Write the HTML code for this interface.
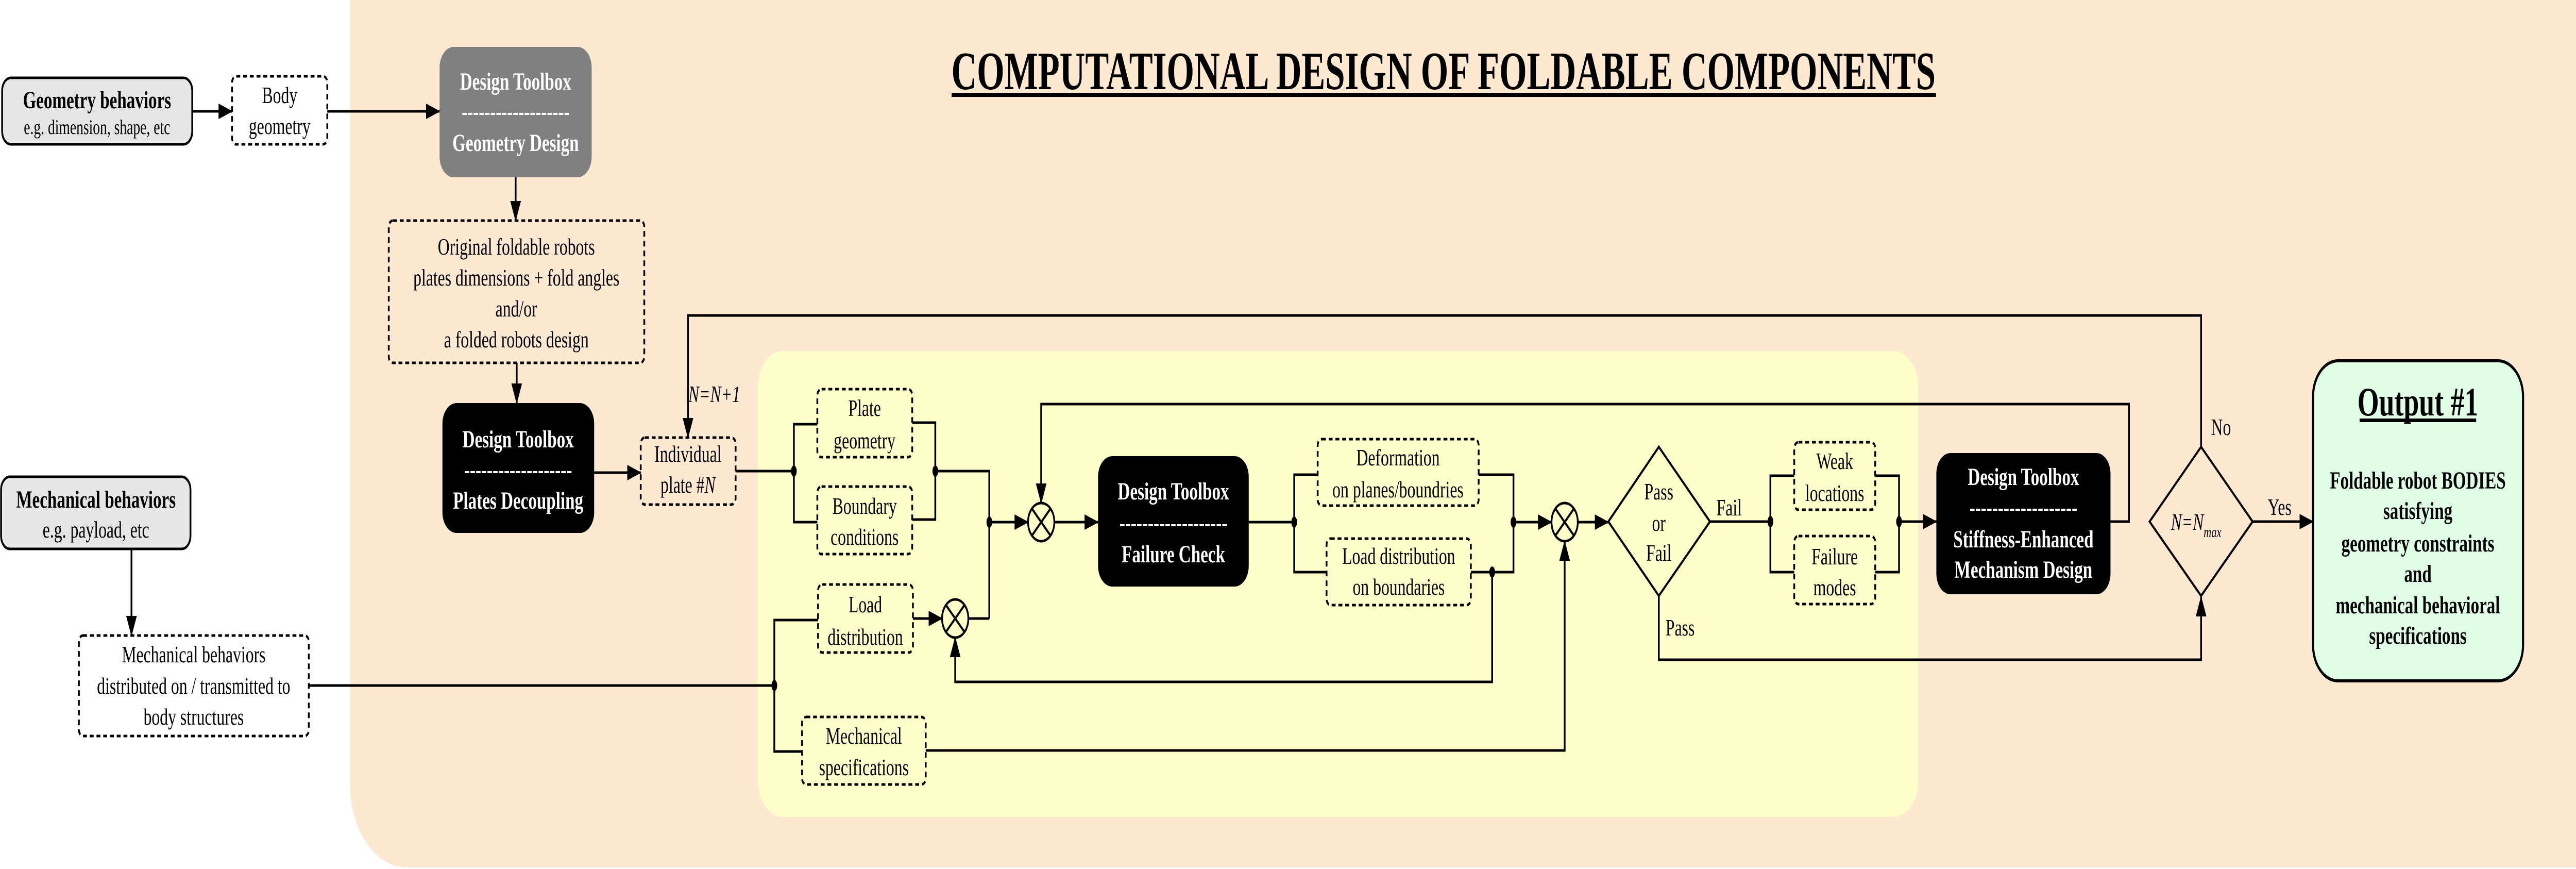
<!DOCTYPE html>
<html><head><meta charset="utf-8"><style>html,body{margin:0;padding:0;background:#fff;overflow:hidden;width:100vw;height:100vh}svg{display:block;width:100vw;height:100vh}</style></head>
<body>
<svg viewBox="0 0 7249 1686" preserveAspectRatio="none" xmlns="http://www.w3.org/2000/svg" font-family="'Liberation Serif', serif">
<defs>
<marker id="a" markerUnits="userSpaceOnUse" markerWidth="40" markerHeight="30" refX="38" refY="15" orient="auto"><path d="M0,0 L40,15 L0,30 Z" fill="#000"/></marker>
</defs>
<rect x="985" y="-200" width="6500" height="1883" rx="160" fill="#fde8d2"/>
<rect x="2133" y="681" width="3265" height="904" rx="70" fill="#ffffcc"/>

<text x="4062" y="173" font-size="105" font-weight="bold" text-anchor="middle" textLength="2770" lengthAdjust="spacingAndGlyphs">COMPUTATIONAL DESIGN OF FOLDABLE COMPONENTS</text>
<rect x="2678" y="180" width="2770" height="8" fill="#000"/>

<g stroke="#000" stroke-width="5" fill="none">
<line x1="541" y1="216" x2="653" y2="216" marker-end="url(#a)"/>
<line x1="921" y1="216" x2="1237" y2="216" marker-end="url(#a)"/>
<line x1="1451" y1="344" x2="1451" y2="428" marker-end="url(#a)"/>
<line x1="1454" y1="704" x2="1454" y2="782" marker-end="url(#a)"/>
<line x1="1672" y1="917" x2="1803" y2="917" marker-end="url(#a)"/>
<line x1="370" y1="1065" x2="370" y2="1233" marker-end="url(#a)"/>
<polyline points="6194,867 6194,612 1936,612 1936,849" marker-end="url(#a)"/>
<polyline points="2070,914 2234,914"/>
<polyline points="2300,823 2234,823 2234,1013 2300,1013"/>
<polyline points="2567,820 2632,820 2632,1008 2567,1008"/>
<polyline points="2632,914 2784,914 2784,1200"/>
<line x1="2784" y1="1013" x2="2893" y2="1013" marker-end="url(#a)"/>
<polyline points="5939,1012 5991,1012 5991,784 2930,784 2930,976" marker-end="url(#a)"/>
<line x1="2967" y1="1013" x2="3090" y2="1013" marker-end="url(#a)"/>
<polyline points="3514,1013 3642,1013"/>
<polyline points="3708,921 3642,921 3642,1110 3733,1110"/>
<polyline points="4161,921 4259,921 4259,1110 4139,1110"/>
<line x1="4259" y1="1013" x2="4366" y2="1013" marker-end="url(#a)"/>
<polyline points="4199,1110 4199,1323 2688,1323 2688,1237" marker-end="url(#a)"/>
<polyline points="869,1330 2179,1330"/>
<polyline points="2302,1203 2179,1203 2179,1458 2257,1458"/>
<line x1="2569" y1="1200" x2="2651" y2="1200" marker-end="url(#a)"/>
<polyline points="2725,1200 2784,1200"/>
<polyline points="2605,1456 4403,1456 4403,1050" marker-end="url(#a)"/>
<line x1="4440" y1="1013" x2="4526" y2="1013" marker-end="url(#a)"/>
<polyline points="4812,1012 4982,1012"/>
<polyline points="5049,923 4982,923 4982,1110 5049,1110"/>
<polyline points="5277,923 5344,923 5344,1110 5277,1110"/>
<line x1="5344" y1="1012" x2="5449" y2="1012" marker-end="url(#a)"/>
<polyline points="4668,1156 4668,1280 6194,1280 6194,1158" marker-end="url(#a)"/>
<line x1="6339" y1="1012" x2="6509" y2="1012" marker-end="url(#a)"/>
</g>
<g fill="#000">
<ellipse cx="2234" cy="914" rx="8" ry="11"/><ellipse cx="2632" cy="914" rx="8" ry="11"/>
<ellipse cx="2784" cy="1013" rx="8" ry="11"/><ellipse cx="3642" cy="1013" rx="8" ry="11"/>
<ellipse cx="4259" cy="1013" rx="8" ry="11"/><ellipse cx="4199" cy="1110" rx="8" ry="11"/>
<ellipse cx="2179" cy="1330" rx="8" ry="11"/><ellipse cx="4982" cy="1012" rx="8" ry="11"/>
<ellipse cx="5344" cy="1012" rx="8" ry="11"/>
</g>
<g stroke="#000" stroke-width="5" fill="none">
<circle cx="2930" cy="1013" r="37"/><path d="M2904,987 L2956,1039 M2956,987 L2904,1039"/>
<circle cx="2688" cy="1200" r="37"/><path d="M2662,1174 L2714,1226 M2714,1174 L2662,1226"/>
<circle cx="4403" cy="1013" r="37"/><path d="M4377,987 L4429,1039 M4429,987 L4377,1039"/>
<polygon points="4668,867 4812,1012 4668,1156 4526,1012"/>
<polygon points="6194,867 6339,1012 6194,1156 6049,1012"/>
</g>

<rect x="6" y="151" width="535" height="129" rx="25" fill="#e6e6e6" stroke="#000" stroke-width="5"/>
<rect x="3" y="925" width="533" height="140" rx="25" fill="#e6e6e6" stroke="#000" stroke-width="5"/>
<rect x="1237" y="91" width="428" height="253" rx="40" fill="#808080"/>
<rect x="1245" y="782" width="427" height="252" rx="40" fill="#000"/>
<rect x="3090" y="885" width="424" height="253" rx="40" fill="#000"/>
<rect x="5449" y="879" width="490" height="274" rx="40" fill="#000"/>
<rect x="6509" y="700" width="591" height="621" rx="70" fill="#e0fde6" stroke="#000" stroke-width="6"/>

<g fill="none" stroke="#000" stroke-width="5" stroke-dasharray="11,8">
<rect x="653" y="148" width="268" height="132" rx="12"/>
<rect x="1094" y="428" width="719" height="276" rx="12"/>
<rect x="1803" y="849" width="267" height="130" rx="12"/>
<rect x="222" y="1233" width="647" height="195" rx="12"/>
<rect x="2300" y="755" width="267" height="132" rx="12"/>
<rect x="2300" y="944" width="267" height="131" rx="12"/>
<rect x="2302" y="1134" width="267" height="132" rx="12"/>
<rect x="2257" y="1391" width="348" height="131" rx="12"/>
<rect x="3708" y="852" width="453" height="129" rx="12"/>
<rect x="3733" y="1045" width="406" height="129" rx="12"/>
<rect x="5049" y="858" width="228" height="131" rx="12"/>
<rect x="5049" y="1040" width="228" height="132" rx="12"/>
</g>

<g font-size="46" text-anchor="middle" fill="#000">
<text x="273" y="210" font-weight="bold" font-size="48">Geometry behaviors</text>
<text x="273" y="260" font-size="40">e.g. dimension, shape, etc</text>
<text x="270" y="985" font-weight="bold" font-size="48">Mechanical behaviors</text>
<text x="270" y="1043">e.g. payload, etc</text>
<text x="787" y="200">Body</text>
<text x="787" y="260">geometry</text>
<text x="1453" y="494">Original foldable robots</text>
<text x="1453" y="554">plates dimensions + fold angles</text>
<text x="1453" y="614">and/or</text>
<text x="1453" y="674">a folded robots design</text>
<text x="545" y="1285">Mechanical behaviors</text>
<text x="545" y="1346">distributed on / transmitted to</text>
<text x="545" y="1406">body structures</text>
<text x="1936" y="896">Individual</text>
<text x="1936" y="956">plate #<tspan font-style="italic">N</tspan></text>
<text x="2010" y="780" font-style="italic">N=N+1</text>
<text x="2433" y="807">Plate</text>
<text x="2433" y="870">geometry</text>
<text x="2433" y="997">Boundary</text>
<text x="2433" y="1057">conditions</text>
<text x="2435" y="1188">Load</text>
<text x="2435" y="1251">distribution</text>
<text x="2431" y="1443">Mechanical</text>
<text x="2431" y="1504">specifications</text>
<text x="3934" y="903">Deformation</text>
<text x="3934" y="965">on planes/boundries</text>
<text x="3936" y="1094">Load distribution</text>
<text x="3936" y="1154">on boundaries</text>
<text x="4668" y="969">Pass</text>
<text x="4668" y="1030">or</text>
<text x="4668" y="1088">Fail</text>
<text x="4866" y="1000">Fail</text>
<text x="4728" y="1233">Pass</text>
<text x="5163" y="910">Weak</text>
<text x="5163" y="972">locations</text>
<text x="5163" y="1095">Failure</text>
<text x="5163" y="1155">modes</text>
<text x="6250" y="844">No</text>
<text x="6415" y="999">Yes</text>
<text x="6180" y="1028" font-style="italic">N=N<tspan font-size="30" dy="14">max</tspan></text>
</g>
<g font-size="48" font-weight="bold" text-anchor="middle" fill="#fff">
<text x="1451" y="174">Design Toolbox</text>
<text x="1451" y="232">-------------------</text>
<text x="1451" y="293">Geometry Design</text>
<text x="1458" y="868">Design Toolbox</text>
<text x="1458" y="927">-------------------</text>
<text x="1458" y="987">Plates Decoupling</text>
<text x="3302" y="969">Design Toolbox</text>
<text x="3302" y="1030">-------------------</text>
<text x="3302" y="1091">Failure Check</text>
<text x="5694" y="941">Design Toolbox</text>
<text x="5694" y="1000">-------------------</text>
<text x="5694" y="1062">Stiffness-Enhanced</text>
<text x="5694" y="1121">Mechanism Design</text>
</g>
<g font-weight="bold" text-anchor="middle" fill="#000">
<text x="6804" y="806" font-size="78">Output #1</text>
<rect x="6640" y="812" width="328" height="7"/>
<g font-size="48">
<text x="6804" y="948">Foldable robot BODIES</text>
<text x="6804" y="1007">satisfying</text>
<text x="6804" y="1070">geometry constraints</text>
<text x="6804" y="1129">and</text>
<text x="6804" y="1190">mechanical behavioral</text>
<text x="6804" y="1249">specifications</text>
</g>
</g>
</svg>
</body></html>
